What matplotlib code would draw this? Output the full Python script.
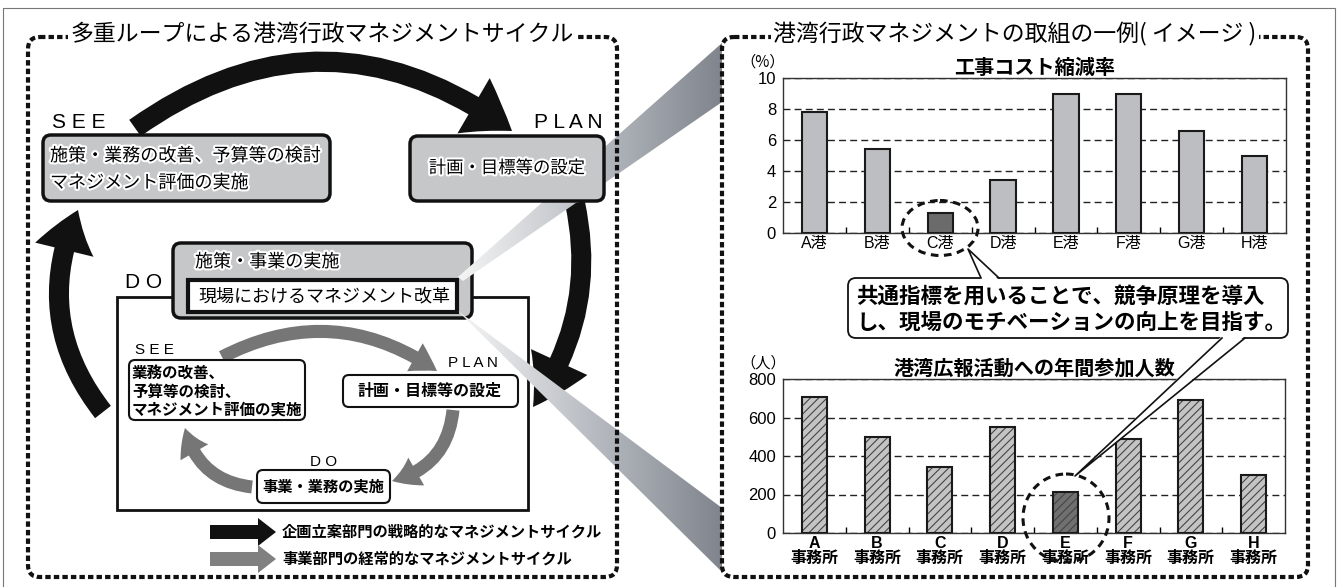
import numpy as np
import matplotlib
matplotlib.use('Agg')
import matplotlib.pyplot as plt
import matplotlib.patheffects as pe
from matplotlib.patches import FancyBboxPatch, FancyArrowPatch, Rectangle, Ellipse, Polygon
from matplotlib.colors import LinearSegmentedColormap

plt.rcParams['font.family'] = ['Noto Sans CJK JP', 'DejaVu Sans']
plt.rcParams['hatch.linewidth'] = 0.8

# 工事コスト縮減率 (%)
ports = ['A港', 'B港', 'C港', 'D港', 'E港', 'F港', 'G港', 'H港']
cost_reduction = [7.8, 5.4, 1.3, 3.4, 9.0, 9.0, 6.6, 5.0]
cost_highlight = 2

# 港湾広報活動への年間参加人数 (人)
offices = ['A', 'B', 'C', 'D', 'E', 'F', 'G', 'H']
participants = [705, 500, 345, 550, 215, 490, 693, 302]
pr_highlight = 4

W, H = 1339, 587
fig = plt.figure(figsize=(W / 100, H / 100), dpi=100)

# base layer in pixel coordinates (y downwards)
ax0 = fig.add_axes([0, 0, 1, 1])
ax0.axis('off')

LATIN = ['Liberation Sans', 'Noto Sans CJK JP']
halo = [pe.withStroke(linewidth=3, foreground='white')]


def px_axes(left, top, right, bottom, z=1):
    return fig.add_axes([left / W, 1 - bottom / H, (right - left) / W, (bottom - top) / H], zorder=z)


def fat_arrow(ax, p0, p1, rad, tail, hw, hl, color, z=2):
    # mutation_scale 0.72 -> style sizes are in pixels at dpi 100
    style = f'simple,tail_width={tail},head_width={hw},head_length={hl}'
    ax.add_patch(FancyArrowPatch(p0, p1, connectionstyle=f'arc3,rad={rad}', arrowstyle=style,
                                 mutation_scale=0.72, color=color, lw=0, zorder=z,
                                 shrinkA=0, shrinkB=0))


def rbox(ax, x, y, w, h, fc, lw, r=8, z=4, ec='#111111'):
    ax.add_patch(FancyBboxPatch((x, y), w, h, boxstyle=f'round,pad=0,rounding_size={r}',
                                fc=fc, ec=ec, lw=lw, zorder=z))


# outer frame
ax0.add_patch(Rectangle((3, 8), 1332, 600, fill=False, ec='#777777', lw=0.8, zorder=1))

# dashed panels
dash = (0, (1.3, 0.75))
for x, w in [(28, 589), (722, 586)]:
    ax0.add_patch(FancyBboxPatch((x, 37), w, 540, boxstyle='round,pad=0,rounding_size=12',
                                 fill=False, ec='#111111', lw=3, ls=dash, zorder=6))
ax0.text(322, 34, '多重ループによる港湾行政マネジメントサイクル', ha='center', va='center',
         fontsize=16.5, bbox=dict(fc='white', ec='none', pad=2), zorder=7)
ax0.text(1015, 34, '港湾行政マネジメントの取組の一例( イメージ )', ha='center', va='center',
         fontsize=16.5, bbox=dict(fc='white', ec='none', pad=2), zorder=7)

# strategic (outer) cycle
fat_arrow(ax0, (135, 128), (512, 131), -0.36, 20, 64, 46, '#111111')
fat_arrow(ax0, (575, 203), (533, 407), -0.22, 20, 62, 52, '#111111')
fat_arrow(ax0, (103, 412), (78, 210), -0.3, 20, 60, 42, '#111111')

rbox(ax0, 43, 135, 287, 66, '#c6c7c9', 2.5)
rbox(ax0, 410, 136, 194, 65, '#c6c7c9', 2.5)
ax0.text(50, 156, '施策・業務の改善、予算等の検討', fontsize=13, va='center', path_effects=halo, zorder=5)
ax0.text(50, 183, 'マネジメント評価の実施', fontsize=13, va='center', path_effects=halo, zorder=5)
ax0.text(507, 168, '計画・目標等の設定', fontsize=12.5, ha='center', va='center', path_effects=halo, zorder=5)
ax0.text(52, 122, 'S E E', fontsize=15, va='center', family=LATIN, zorder=5)
ax0.text(603, 122, 'P L A N', fontsize=15, ha='right', va='center', family=LATIN, zorder=5)

# DO area
ax0.add_patch(Rectangle((117, 297), 411, 213, fc='white', ec='#111111', lw=2, zorder=1.5))
ax0.text(125, 283, 'D O', fontsize=15, va='center', family=LATIN, zorder=5)
rbox(ax0, 173, 243, 299, 75, '#c6c7c9', 2.5, z=1.6)
ax0.add_patch(Rectangle((188, 280), 269, 32, fc='white', ec='#111111', lw=3, zorder=1.7))
ax0.text(195, 262, '施策・事業の実施', fontsize=13, va='center', path_effects=halo, zorder=5)
ax0.text(198, 296, '現場におけるマネジメント改革', fontsize=13, va='center', zorder=5)

# routine (inner) cycle
grey = '#767676'
fat_arrow(ax0, (222, 357), (437, 371), -0.3, 13, 32, 26, grey)
fat_arrow(ax0, (453, 410), (392, 481), -0.35, 13, 32, 26, grey)
fat_arrow(ax0, (252, 487), (185, 428), -0.35, 13, 32, 26, grey)

rbox(ax0, 129, 360, 176, 60, 'white', 1.5, r=6)
rbox(ax0, 343, 375, 175, 32, 'white', 1.5, r=6)
rbox(ax0, 257, 470, 133, 33, 'white', 1.5, r=6)
for yy, s in [(373, '業務の改善、'), (392, '予算等の検討、'), (410, 'マネジメント評価の実施')]:
    ax0.text(132, yy, s, fontsize=11.2, fontweight='bold', va='center', zorder=5)
ax0.text(430, 391, '計画・目標等の設定', fontsize=11.5, fontweight='bold', ha='center', va='center', zorder=5)
ax0.text(323, 487, '事業・業務の実施', fontsize=11, fontweight='bold', ha='center', va='center', zorder=5)
ax0.text(135, 350, 'S E E', fontsize=11, va='center', family=LATIN, zorder=5)
ax0.text(498, 363, 'P L A N', fontsize=11, ha='right', va='center', family=LATIN, zorder=5)
ax0.text(310, 462, 'D O', fontsize=11, va='center', family=LATIN, zorder=5)

# legend
fat_arrow(ax0, (210, 532), (276, 532), 0, 14, 28, 18, '#111111')
fat_arrow(ax0, (210, 559), (276, 559), 0, 14, 28, 18, '#808080')
ax0.text(282, 532, '企画立案部門の戦略的なマネジメントサイクル', fontsize=11, fontweight='bold', va='center')
ax0.text(282, 559, '事業部門の経常的なマネジメントサイクル', fontsize=11, fontweight='bold', va='center')

# projection beams from the field box to the example panel
beam_cmap = LinearSegmentedColormap.from_list('beam', ['#f5f5f5', '#b9bdc3', '#80858d'])
grad = np.linspace(0, 1, 256).reshape(1, -1)
for poly in ([(458, 277), (463, 281), (722, 102), (722, 43)],
             [(458, 311), (462, 315), (722, 572), (722, 508)]):
    clip = Polygon(poly, closed=True, fc='none', ec='none')
    ax0.add_patch(clip)
    im = ax0.imshow(grad, cmap=beam_cmap, extent=(458, 722, 580, 40), aspect='auto',
                    interpolation='bicubic', zorder=3)
    im.set_clip_path(clip)

ax0.set_xlim(0, W)
ax0.set_ylim(H, 0)

ax0.text(763, 62, '（%）', fontsize=11, ha='center', va='center')
ax0.text(763, 363, '（人）', fontsize=11, ha='center', va='center')


def style_chart(ax, ymax, step, labels, bold):
    x = np.arange(len(labels))
    ax.set_xlim(-0.5, len(labels) - 0.5)
    ax.set_ylim(0, ymax)
    ax.set_yticks(np.arange(0, ymax + 1, step))
    ax.yaxis.grid(True, linestyle=(0, (5, 3)), color='#222222', lw=1)
    ax.set_axisbelow(True)
    ax.tick_params(axis='y', length=0, labelsize=12, pad=5)
    ax.set_xticks(x, labels)
    ax.tick_params(axis='x', length=0, labelsize=11.5, pad=2)
    ax.set_xticks(np.arange(0.5, len(labels) - 1, 1), minor=True)
    ax.tick_params(axis='x', which='minor', direction='in', length=4, width=1)
    for lab in ax.get_yticklabels():
        lab.set_family('Liberation Sans')
    for lab in ax.get_xticklabels():
        lab.set_family(LATIN)
        if bold:
            lab.set_fontweight('bold')
            lab.set_linespacing(1.0)
    for sp in ax.spines.values():
        sp.set_color('#333333')
        sp.set_linewidth(1)


# chart: 工事コスト縮減率
ax1 = px_axes(783, 78, 1286, 233)
bar_colors = ['#6b6b6b' if i == cost_highlight else '#bdbec2' for i in range(len(ports))]
ax1.bar(np.arange(len(ports)), cost_reduction, width=0.4, color=bar_colors,
        edgecolor='#1a1a1a', linewidth=1.5, zorder=3)
style_chart(ax1, 10, 2, ports, False)
ax1.set_title('工事コスト縮減率', fontsize=14.5, fontweight='bold', pad=3)

# chart: 港湾広報活動への年間参加人数
ax3 = px_axes(783, 379, 1285, 533)
pos = np.arange(len(offices))
fills = ['#707070' if i == pr_highlight else '#c4c4c4' for i in range(len(offices))]
ax3.bar(pos, participants, width=0.4, color=fills, hatch='////', edgecolor='#454545',
        linewidth=0, zorder=3)
ax3.bar(pos, participants, width=0.4, fill=False, edgecolor='#1a1a1a', linewidth=1.5, zorder=4)
style_chart(ax3, 800, 200, [f'{o}\n事務所' for o in offices], True)
ax3.set_title('港湾広報活動への年間参加人数', fontsize=14.5, fontweight='bold', pad=3)

# overlay: highlight rings and callout
ax2 = fig.add_axes([0, 0, 1, 1], zorder=5)
ax2.axis('off')
ax2.patch.set_alpha(0)
ax2.set_xlim(0, W)
ax2.set_ylim(H, 0)

ring = dict(fill=False, ls=(0, (2.5, 1.8)), lw=2.2, ec='#111111')
ax2.add_patch(Ellipse((940, 228), 76, 55, **ring))
ax2.add_patch(Ellipse((1066, 518), 86, 88, **ring))

rbox(ax2, 848, 278, 440, 60, 'white', 1.3, r=8, z=2)
# tail towards C港
ax2.add_patch(Polygon([(981, 280), (968, 249), (999, 280)], fc='white', ec='none', zorder=3))
ax2.plot([981, 968, 999], [278, 249, 278], color='#111111', lw=1.2, zorder=4)
# tail towards E事務所
ax2.add_patch(Polygon([(1222, 336), (1075, 476), (1245, 336)], fc='white', ec='none', zorder=3))
ax2.plot([1222, 1075, 1245], [338, 476, 338], color='#111111', lw=1.2, zorder=4)
ax2.text(856, 296, '共通指標を用いることで、競争原理を導入', fontsize=15.5, fontweight='bold',
         va='center', zorder=5)
ax2.text(856, 322, 'し、現場のモチベーションの向上を目指す。', fontsize=15.5, fontweight='bold',
         va='center', zorder=5)

fig.savefig('out.png', dpi=100)
